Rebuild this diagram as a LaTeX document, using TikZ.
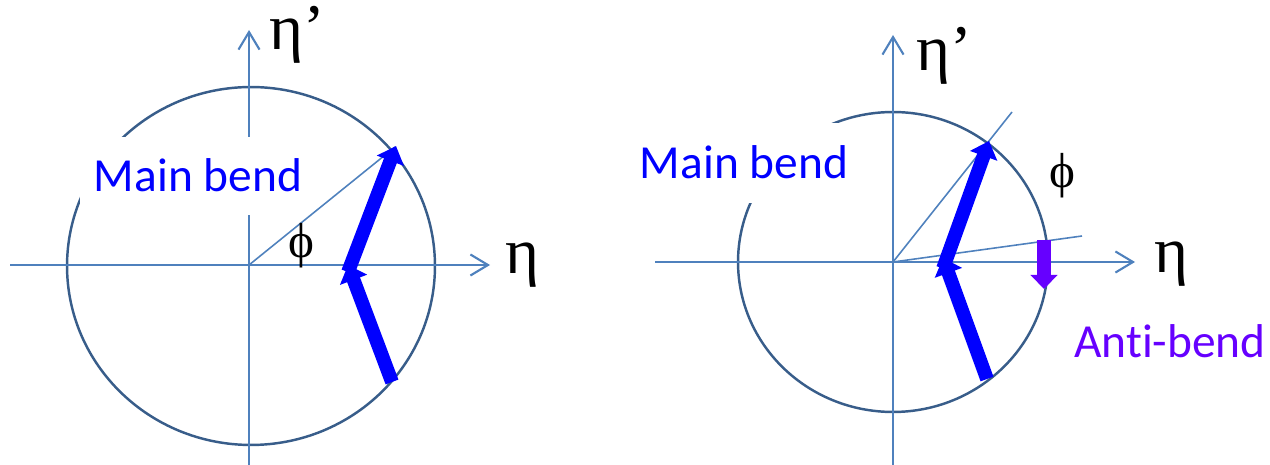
\documentclass[tikz,border=0pt]{standalone}
\usepackage{fontspec}
\setmainfont{Carlito}
\newfontfamily\grk{Liberation Serif}
\usetikzlibrary{arrows.meta}
\definecolor{axisblue}{RGB}{79,129,189}
\definecolor{circblue}{RGB}{56,93,138}
\definecolor{bendblue}{RGB}{0,0,255}
\definecolor{antipurple}{RGB}{102,0,255}
\begin{document}
\begin{tikzpicture}[x=0.02cm,y=-0.02cm,
 axis/.style={draw=axisblue, line width=1.2pt, -{Straight Barb[length=10pt,width=12pt]}},
 ring/.style={draw=circblue, line width=1.4pt},
 ray/.style={draw=axisblue, line width=0.9pt},
 bendarrow/.style={draw=bendblue, line width=7.8pt, -{Triangle[length=9pt,width=16pt]}},
 antiarrow/.style={draw=antipurple, line width=7.5pt, -{Triangle[length=8pt,width=15pt]}},
 greek/.style={font=\grk\fontsize{37}{42}\selectfont, inner sep=0pt, anchor=base west},
 phil/.style={font=\grk\fontsize{28}{32}\selectfont, inner sep=0pt},
 lbl/.style={font=\fontsize{27}{31}\selectfont, inner sep=0pt, anchor=base},
 mask/.style={fill=white, draw=none}]
\useasboundingbox (0,0) rectangle (1270,465);
% ---------- left diagram ----------
\coordinate (LO) at (249,265);
\coordinate (LxS) at (10,265);
\coordinate (LxE) at (490,265);
\coordinate (LyS) at (249,465);
\coordinate (LyE) at (249,30);
\draw[ring] (251,266) ellipse [x radius=3.68cm, y radius=3.58cm];
\draw[axis] (LxS) -- (LxE);
\draw[axis] (LyS) -- (LyE);
\fill[mask] (80,137) rectangle (305,215);
\node[lbl, text=bendblue] (Lmain) at (198,192) {Main bend};
\coordinate (Lray) at (395,147);
\draw[ray] (LO) -- (Lray);
\coordinate (La1) at (392,382);
\coordinate (La2) at (348,265);
\coordinate (La3) at (396,146);
\draw[bendarrow] (La1) -- (La2);
\draw[bendarrow] ([yshift=-4]La2) -- (La3);
\node[greek] (Letap) at (269,50) {η’};
\node[greek] (Leta) at (505,274) {η};
\node[phil] (Lphi) at (301,246) {ϕ};
% ---------- right diagram ----------
\coordinate (RO) at (893,262);
\coordinate (RxS) at (655,262);
\coordinate (RxE) at (1135,262);
\coordinate (RyS) at (893,465);
\coordinate (RyE) at (893,35);
\draw[ring] (893,262) ellipse [x radius=3.1cm, y radius=3.0cm];
\draw[axis] (RxS) -- (RxE);
\draw[axis] (RyS) -- (RyE);
\fill[mask] (630,123) rectangle (862,203);
\node[lbl, text=bendblue] (Rmain) at (744,179) {Main bend};
\coordinate (Rray1) at (1012,112);
\coordinate (Rray2) at (1082,236);
\draw[ray] (RO) -- (Rray1);
\draw[ray] (RO) -- (Rray2);
\coordinate (Ra1) at (987,379);
\coordinate (Ra2) at (943,258);
\coordinate (Ra3) at (989,141);
\draw[bendarrow] (Ra1) -- (Ra2);
\draw[bendarrow] ([yshift=-6]Ra2) -- (Ra3);
\coordinate (Rp1) at (1044,240);
\coordinate (Rp2) at (1044,289);
\draw[antiarrow] (Rp1) -- (Rp2);
\node[greek] (Retap) at (916,71) {η’};
\node[greek] (Reta) at (1154,273) {η};
\node[phil] (Rphi) at (1062,176) {ϕ};
\node[lbl, text=antipurple] (Ranti) at (1170,358) {Ant\kern0pt i-bend};
\end{tikzpicture}
\end{document}
